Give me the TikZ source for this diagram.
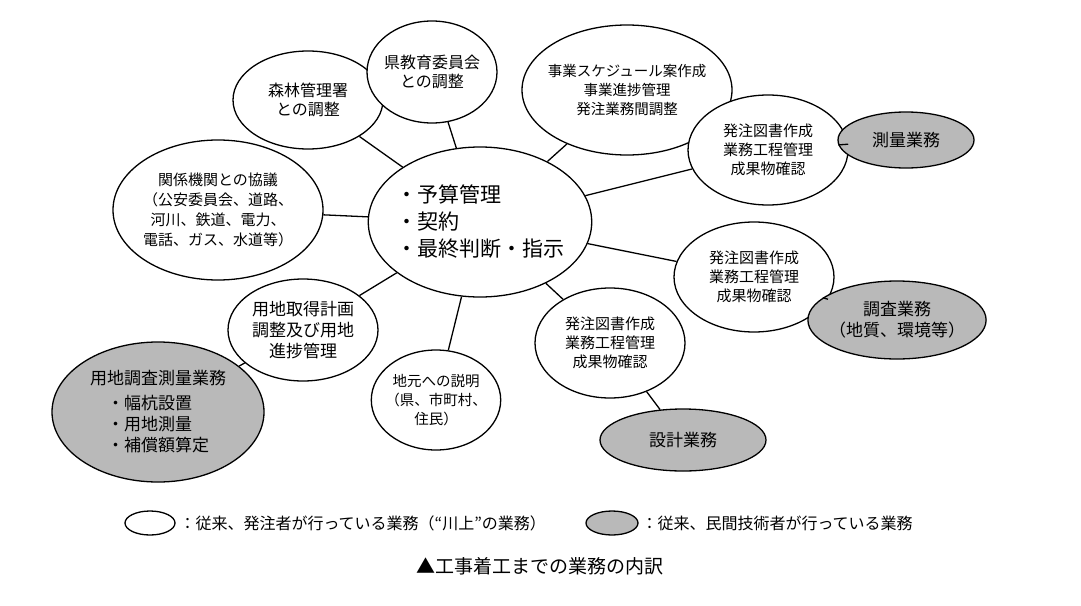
\documentclass[tikz,border=0pt]{standalone}
\usepackage{fontspec}
\setmainfont{Noto Sans CJK JP}
\usetikzlibrary{shapes.geometric}
\begin{document}
\begin{tikzpicture}[x=1pt,y=-1pt,
  el/.style={ellipse,draw,line width=1.3pt,fill=white,inner sep=-5pt,align=center,font=\fontsize{16}{19}\selectfont},
  gel/.style={el,fill=gray!55},
  ln/.style={line width=1.3pt}]
\useasboundingbox[fill=white] (0,0) rectangle (1081,605);
\node[el,minimum width=180,minimum height=150,align=left,font=\fontsize{21}{27}\selectfont] (c) at (480,222) {・予算管理\\・契約\\・最終判断・指示};
\node[el,minimum width=150,minimum height=98] (a1) at (308,100) {森林管理署\\との調整};
\node[el,minimum width=130,minimum height=102] (a2) at (432,72) {県教育委員会\\との調整};
\node[el,minimum width=190,minimum height=130,font=\fontsize{14.5}{19}\selectfont] (a3) at (627,90) {事業スケジュール案作成\\事業進捗管理\\発注業務間調整};
\node[el,minimum width=160,minimum height=110,font=\fontsize{15}{19}\selectfont] (a4) at (768,150) {発注図書作成\\業務工程管理\\成果物確認};
\node[gel,minimum width=136,minimum height=56,font=\fontsize{17}{20}\selectfont] (g1) at (906,140) {測量業務};
\node[el,minimum width=210,minimum height=140,font=\fontsize{15}{20}\selectfont] (a5) at (218,210) {関係機関との協議\\（公安委員会、道路、\\河川、鉄道、電力、\\電話、ガス、水道等）};
\node[el,minimum width=160,minimum height=110,font=\fontsize{15}{19}\selectfont] (a6) at (754,277) {発注図書作成\\業務工程管理\\成果物確認};
\node[gel,minimum width=150,minimum height=78,font=\fontsize{17}{21}\selectfont] (g2) at (897,320) {調査業務\\（地質、環境等）};
\node[el,minimum width=150,minimum height=102,font=\fontsize{17}{21}\selectfont] (a7) at (303,330) {用地取得計画\\調整及び用地\\進捗管理};
\node[el,minimum width=122,minimum height=100,font=\fontsize{14.5}{19}\selectfont] (a8) at (436,400) {地元への説明\\（県、市町村、\\住民）};
\node[el,minimum width=150,minimum height=110,font=\fontsize{15}{19}\selectfont] (a9) at (610,343) {発注図書作成\\業務工程管理\\成果物確認};
\node[gel,minimum width=166,minimum height=62,font=\fontsize{17}{20}\selectfont] (g3) at (683,440) {設計業務};
\node[gel,minimum width=212,minimum height=140,align=left,font=\fontsize{17}{21}\selectfont] (g4) at (158,412) {用地調査測量業務\\[4pt]\hspace{1em}・幅杭設置\\\hspace{1em}・用地測量\\\hspace{1em}・補償額算定};
\draw[ln] (c) -- (a1); \draw[ln] (c) -- (a2); \draw[ln] (c) -- (a3);
\draw[ln] (c) -- (a4); \draw[ln] (c) -- (a5); \draw[ln] (c) -- (a6);
\draw[ln] (c) -- (a7); \draw[ln] (c) -- (a8); \draw[ln] (c) -- (a9);
\draw[ln] (a4) -- (g1); \draw[ln] (a6) -- (g2); \draw[ln] (a9) -- (g3); \draw[ln] (a7) -- (g4);
\node[el,minimum width=50,minimum height=24] (l1) at (150,523) {};
\node[anchor=west,font=\fontsize{16}{19}\selectfont] (t1) at (176,523) {：従来、発注者が行っている業務（“川上”の業務）};
\node[gel,minimum width=52,minimum height=24] (l2) at (612,523) {};
\node[anchor=west,font=\fontsize{16}{19}\selectfont] (t2) at (638,523) {：従来、民間技術者が行っている業務};
\node[font=\fontsize{19}{22}\selectfont] (tt) at (540,566) {▲工事着工までの業務の内訳};
\end{tikzpicture}
\end{document}
